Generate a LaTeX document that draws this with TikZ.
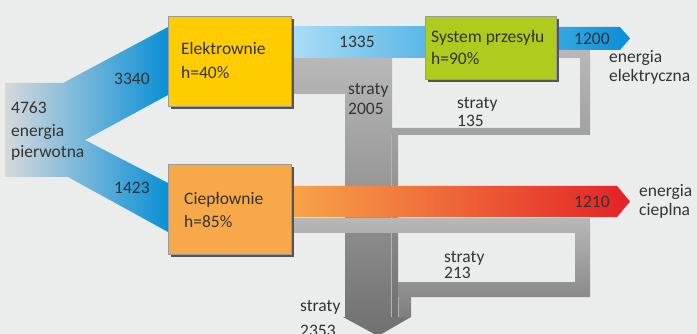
\documentclass[tikz,border=0pt]{standalone}
\usepackage{fontspec}
\setmainfont{Carlito}
\definecolor{bg}{HTML}{EBECEC}
\definecolor{txt}{HTML}{333333}
\definecolor{boxedge}{HTML}{9A9A9A}
\definecolor{shadowc}{HTML}{555555}
\definecolor{elek}{HTML}{FFCC00}
\definecolor{ciep}{HTML}{F7A94A}
\definecolor{sysc}{HTML}{AFCB1E}
\definecolor{srcgray}{HTML}{D6D9DC}
\definecolor{srcblue}{HTML}{0A90D6}
\definecolor{lblue}{HTML}{ABDDF6}
\definecolor{mblue}{HTML}{5CB7E6}
\definecolor{ablue1}{HTML}{35A8E2}
\definecolor{ablue2}{HTML}{0A8ED6}
\definecolor{heat1}{HTML}{F7A448}
\definecolor{heat2}{HTML}{EE6A35}
\definecolor{heat3}{HTML}{E42127}
\definecolor{g1}{HTML}{B8B8B8}
\definecolor{g2}{HTML}{707070}
\definecolor{g3}{HTML}{A0A0A0}
\begin{document}
\begin{tikzpicture}[x=1pt,y=-1pt,
  font=\fontsize{17.5}{21}\selectfont,
  lbl/.style={anchor=base west, inner sep=0pt, text=txt},
  boxstyle/.style={draw=boxedge, line width=1.2pt},
  shadowstyle/.style={fill=shadowc}]
\useasboundingbox (0,0) rectangle (697,334);
\fill[bg] (0,0) rectangle (697,334);
\clip (0,0) rectangle (697,334);

% primary energy source split
\shade[left color=srcgray, right color=srcblue]
  (5,83) -- (63,83) -- (168,27) -- (168,95) -- (85,140) -- (168,183)
  -- (168,232) -- (68,177) -- (5,177) -- cycle;

% main loss column (Elektrownie losses) with arrowhead
\shade[top color=g1, bottom color=g2]
  (291,58) -- (392,58) -- (392,317) -- (411,317) -- (378,336) -- (343,317)
  -- (345,317) -- (345,94) -- (291,94) -- cycle;

% 135 loss loop from System przesylu
\shade[top color=g1, bottom color=g2]
  (556,50) -- (590,50) -- (590,135) -- (398,135) -- (398,317) -- (391,317)
  -- (391,128) -- (580,128) -- (580,58) -- (556,58) -- cycle;
\draw[g3!80!white, line width=0.6pt] (391,135) -- (391,317);

% 213 loss loop from Cieplownie
\shade[top color=g1, bottom color=g2!90!white]
  (291,218) -- (590,218) -- (590,297) -- (411,297) -- (411,317) -- (398,317)
  -- (398,282) -- (575,282) -- (575,233) -- (291,233) -- cycle;
\draw[g3!80!white, line width=0.6pt] (398,297) -- (398,317);

% electricity flows
\shade[left color=lblue, right color=mblue] (291,27) rectangle (425,58);
\shade[left color=ablue1, right color=ablue2]
  (556,27) -- (620,27) -- (630,38.5) -- (620,50) -- (556,50) -- cycle;

% heat flow
\shade[left color=heat1, middle color=heat2, right color=heat3]
  (291,186) -- (617,186) -- (630,201.5) -- (617,217) -- (291,217) -- cycle;

% boxes
\fill[shadowstyle] (171,19) rectangle (294,109);
\node[boxstyle, fill=elek, minimum width=123pt, minimum height=90pt, anchor=north west, inner sep=0pt] (elektrownie) at (168,16) {};
\fill[shadowstyle] (171,167) rectangle (294,257);
\node[boxstyle, fill=ciep, minimum width=123pt, minimum height=90pt, anchor=north west, inner sep=0pt] (cieplownie) at (168,164) {};
\fill[shadowstyle] (428,19) rectangle (559,82);
\node[boxstyle, fill=sysc, minimum width=131pt, minimum height=63pt, anchor=north west, inner sep=0pt] (system) at (425,16) {};

% labels
\node[lbl] (src1) at (11,114) {4763};
\node[lbl] (src2) at (11,137) {energia};
\node[lbl] (src3) at (11,158) {pierwotna};
\node[lbl] (v3340) at (114,85) {3340};
\node[lbl] (v1423) at (114,194) {1423};
\node[lbl] (el1) at (181,55) {Elektrownie};
\node[lbl] (el2) at (181,79) {h=40\%};
\node[lbl] (ci1) at (184,205) {Ciepłownie};
\node[lbl] (ci2) at (184,228) {h=85\%};
\node[lbl] (sy1) at (431,43) {System przesyłu};
\node[lbl] (sy2) at (431,65) {h=90\%};
\node[lbl] (v1335) at (339,48) {1335};
\node[lbl] (s2005a) at (348,95) {straty};
\node[lbl] (s2005b) at (348,115) {2005};
\node[lbl] (v1200) at (574,45) {1200};
\node[lbl] (ee1) at (609,63) {energia};
\node[lbl] (ee2) at (609,82) {elektryczna};
\node[lbl] (s135a) at (457,109) {straty};
\node[lbl] (s135b) at (457,127) {135};
\node[lbl] (v1210) at (574,208) {1210};
\node[lbl] (ec1) at (639,197) {energia};
\node[lbl] (ec2) at (639,215) {cieplna};
\node[lbl] (s213a) at (444,262) {straty};
\node[lbl] (s213b) at (444,279) {213};
\node[lbl] (s2353a) at (300,312) {straty};
\node[lbl] (s2353b) at (300,336) {2353};
\end{tikzpicture}
\end{document}
